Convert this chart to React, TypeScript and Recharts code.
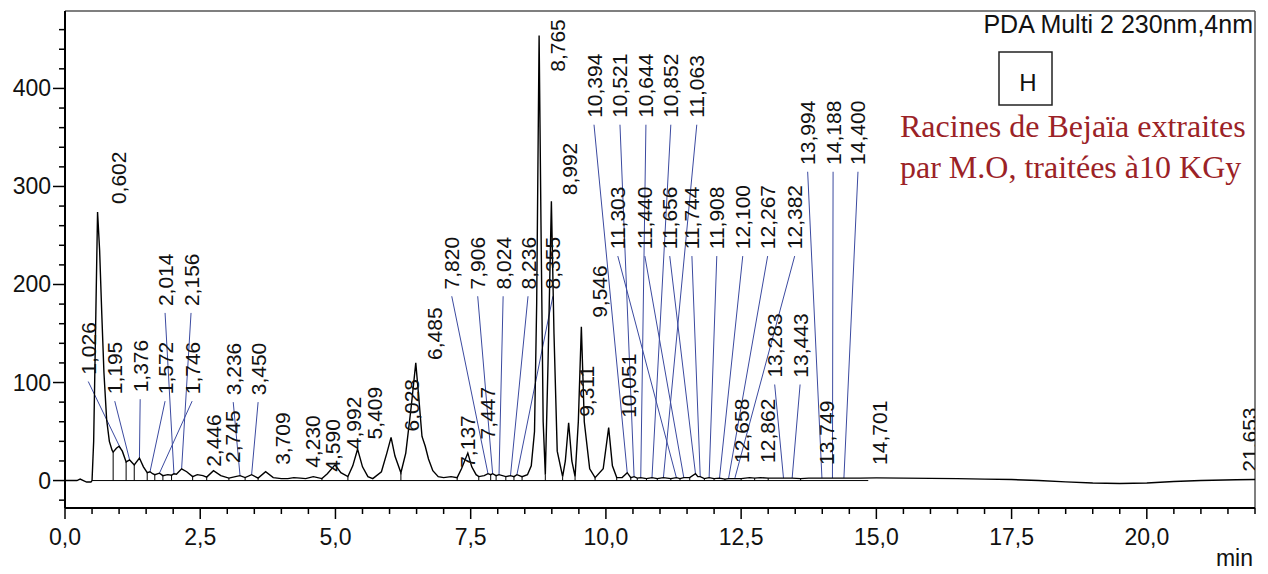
import { ComposedChart, Line, Scatter, XAxis, YAxis, ReferenceLine } from 'recharts';

// detector trace: [retention time (min), response (mAU)]
const trace: [number, number][] = [
  [0, 0], [0.22, 0], [0.28, 1.5], [0.34, 0], [0.4, -1.5], [0.48, -1.5], [0.5, 0],
  [0.53, 40], [0.57, 170], [0.602, 274], [0.64, 235], [0.68, 170], [0.72, 110], [0.77, 62],
  [0.82, 40], [0.87, 31], [0.89, 29], [0.95, 33], [1.0, 35], [1.06, 30], [1.13, 19],
  [1.195, 21], [1.28, 16], [1.376, 23], [1.45, 14], [1.52, 8], [1.572, 9], [1.62, 7],
  [1.66, 6], [1.746, 7.5], [1.81, 5], [1.9, 6], [1.97, 5.5], [2.014, 7], [2.06, 6.5],
  [2.156, 12], [2.25, 9], [2.36, 4], [2.446, 6], [2.55, 5], [2.62, 3.5], [2.745, 10],
  [2.88, 5], [3.03, 2.5], [3.15, 4], [3.236, 5], [3.33, 3], [3.45, 6], [3.57, 2.5],
  [3.709, 9], [3.85, 3], [4.0, 2], [4.12, 2], [4.23, 3], [4.35, 2.5], [4.45, 2], [4.59, 4],
  [4.75, 2], [4.85, 7], [4.992, 16], [5.1, 8], [5.23, 4], [5.32, 15], [5.409, 32], [5.5, 14],
  [5.6, 4], [5.69, 2], [5.85, 9], [5.95, 28], [6.028, 44], [6.1, 25], [6.21, 8], [6.3, 28],
  [6.4, 75], [6.485, 120], [6.54, 85], [6.6, 45], [6.66, 35], [6.72, 22], [6.8, 10],
  [6.9, 4], [7.0, 3], [7.137, 4], [7.25, 3], [7.33, 12], [7.447, 28], [7.52, 14], [7.6, 6],
  [7.65, 4], [7.75, 5], [7.82, 7], [7.87, 6], [7.906, 7], [7.97, 5], [8.024, 6], [8.15, 4],
  [8.236, 5], [8.3, 4], [8.355, 6], [8.45, 4], [8.55, 6], [8.62, 15], [8.68, 50], [8.72, 180],
  [8.765, 454], [8.8, 260], [8.84, 60], [8.88, 6], [8.93, 120], [8.992, 285], [9.04, 150],
  [9.1, 30], [9.2, 4], [9.25, 20], [9.311, 59], [9.37, 20], [9.43, 4], [9.49, 60],
  [9.546, 157], [9.6, 60], [9.7, 12], [9.8, 3], [9.95, 12], [10.051, 54], [10.12, 15],
  [10.2, 3], [10.3, 3], [10.394, 8], [10.46, 3], [10.521, 4], [10.58, 2.5], [10.644, 3],
  [10.75, 2], [10.852, 3], [10.95, 2], [11.063, 3], [11.2, 2], [11.303, 3], [11.37, 2],
  [11.44, 3], [11.55, 3], [11.656, 7], [11.7, 4], [11.744, 4], [11.82, 2], [11.908, 3],
  [12.0, 2], [12.1, 2.5], [12.2, 1.5], [12.267, 2], [12.382, 2], [12.5, 2], [12.658, 3],
  [12.75, 2.5], [12.862, 3], [13.0, 2.5], [13.283, 2.5], [13.443, 2.5], [13.6, 2],
  [13.749, 2.5], [13.994, 2.5], [14.188, 2.5], [14.4, 2.5], [14.701, 2.5], [15.0, 2.7],
  [16.0, 2.2], [16.5, 2], [17.0, 1.5], [17.5, 1], [18.0, 0], [18.5, -1.3], [19.0, -2.5],
  [19.5, -3], [20.0, -2.5], [20.5, -1], [21.0, 0], [21.653, 0.8], [22.0, 1],
];

// integration drop lines (min)
const dropTimes = [
  0.89, 1.13, 1.28, 1.52, 1.66, 1.81, 1.97, 2.36, 2.62, 3.03, 3.33, 3.57, 4.75, 5.23, 6.21,
  7.25, 7.65, 7.87, 7.97, 8.15, 8.3, 8.45, 8.88, 9.2, 9.43, 9.8, 10.2, 10.46, 10.58, 10.75,
  10.95, 11.2, 11.37, 11.55, 11.82, 12.0, 12.2, 12.5, 12.75, 13.0, 13.6,
];

// peak labels: [retention time, label time, label level, leader line]
const peakLabels: [number, number, number, boolean][] = [
  [0.602, 0.98, 282, false], [1.026, 0.43, 108, true], [1.195, 0.92, 88, true],
  [1.376, 1.39, 90, true], [1.572, 1.85, 88, true], [1.746, 2.35, 88, true],
  [2.014, 1.85, 178, true], [2.156, 2.33, 178, true], [2.446, 2.74, 14, false],
  [2.745, 3.09, 18, false], [3.236, 3.11, 87, true], [3.45, 3.57, 87, true],
  [3.709, 4.03, 16, false], [4.23, 4.57, 13, false], [4.59, 4.95, 9, false],
  [4.992, 5.34, 32, false], [5.409, 5.73, 42, false], [6.028, 6.41, 50, false],
  [6.485, 6.84, 123, false], [7.137, 7.45, 13, false], [7.447, 7.82, 42, false],
  [7.82, 7.15, 195, true], [7.906, 7.63, 195, true], [8.024, 8.1, 195, true],
  [8.236, 8.56, 195, true], [8.355, 9.02, 195, true], [8.765, 9.11, 417, false],
  [8.992, 9.33, 291, false], [9.311, 9.65, 65, false], [9.546, 9.89, 166, false],
  [10.051, 10.41, 64, false], [10.394, 9.78, 370, true], [10.521, 10.26, 370, true],
  [10.644, 10.74, 370, true], [10.852, 11.2, 370, true], [11.063, 11.68, 370, true],
  [11.303, 10.22, 236, true], [11.44, 10.72, 236, true], [11.656, 11.18, 236, true],
  [11.744, 11.59, 236, true], [11.908, 12.05, 236, true], [12.1, 12.53, 236, true],
  [12.267, 12.99, 236, true], [12.382, 13.49, 236, true], [12.658, 12.51, 18, false],
  [12.862, 12.99, 18, false], [13.283, 13.12, 105, true], [13.443, 13.59, 105, true],
  [13.994, 13.73, 322, true], [14.188, 14.2, 322, true], [14.4, 14.66, 322, true],
  [13.749, 14.07, 16, false], [14.701, 15.06, 16, false], [21.653, 21.9, 9, false],
];

const xTicks = Array.from({ length: 45 }, (_, i) => i * 0.5);
const yTicks = Array.from({ length: 25 }, (_, i) => -20 + i * 20);

const SANS = "'Liberation Sans', Arial, sans-serif";
const SERIF = "'Liberation Serif', 'Times New Roman', serif";
const LEADER = '#3b4aa0';

const fmt = (n: number, d: number) => n.toFixed(d).replace('.', ',');

function levelAt(t: number) {
  for (let i = 1; i < trace.length; i++) {
    const [t0, v0] = trace[i - 1];
    const [t1, v1] = trace[i];
    if (t >= t0 && t <= t1) return v0 + ((v1 - v0) * (t - t0)) / (t1 - t0);
  }
  return 0;
}

const XTick = ({ x, y, payload }: any) => {
  const v = payload.value;
  const major = Math.abs(v / 2.5 - Math.round(v / 2.5)) < 1e-6;
  return (
    <g>
      <line x1={x} x2={x} y1={y} y2={y + (major ? 11 : 6)} stroke="#000" strokeWidth={1.5} />
      {major && (
        <text x={x} y={y + 37} textAnchor="middle" fontFamily={SANS} fontSize={23} fill="#111">
          {fmt(v, 1)}
        </text>
      )}
    </g>
  );
};

const YTick = ({ x, y, payload }: any) => {
  const v = payload.value;
  const major = v % 100 === 0;
  return (
    <g>
      <line x1={x - (major ? 12 : 6)} x2={x} y1={y} y2={y} stroke="#000" strokeWidth={1.5} />
      {major && (
        <text x={x - 14} y={y} textAnchor="end" dominantBaseline="central" fontFamily={SANS} fontSize={23} fill="#111">
          {v}
        </text>
      )}
    </g>
  );
};

const PeakLabel = (props: any) => {
  const { cx, cy, payload } = props;
  return (
    <text
      x={cx}
      y={cy}
      transform={`rotate(-90 ${cx} ${cy})`}
      textAnchor="start"
      dominantBaseline="central"
      fontFamily={SANS}
      fontSize={21}
      fill="#111"
    >
      {payload.label}
    </text>
  );
};

export default function App() {
  const traceData = trace.map(([t, v]) => ({ t, v }));
  const labelData = peakLabels.map(([rt, t, v]) => ({ t, v, label: fmt(rt, 3) }));

  return (
    <div style={{ position: 'absolute', left: 0, top: 0, width: 1268, height: 574, background: '#fff' }}>
      <ComposedChart width={1268} height={574} margin={{ top: 11, right: 13, bottom: 0, left: 0 }}>
        <XAxis
          type="number"
          dataKey="t"
          domain={[0, 22]}
          ticks={xTicks}
          interval={0}
          allowDataOverflow
          height={66}
          tickSize={0}
          tickMargin={0}
          tickLine={false}
          axisLine={{ stroke: '#000', strokeWidth: 2 }}
          tick={XTick}
        />
        <YAxis
          type="number"
          domain={[-28, 479]}
          ticks={yTicks}
          interval={0}
          allowDataOverflow
          width={65}
          tickSize={0}
          tickMargin={0}
          tickLine={false}
          axisLine={{ stroke: '#000', strokeWidth: 2 }}
          tick={YTick}
        />
        <ReferenceLine y={479} stroke="#555" strokeWidth={1.5} />
        <ReferenceLine x={22} stroke="#555" strokeWidth={1.5} />
        <ReferenceLine segment={[{ x: 0.5, y: 0 }, { x: 14.85, y: 0 }]} stroke="#000" strokeWidth={1} />
        {dropTimes.map((t) => (
          <ReferenceLine key={`d${t}`} segment={[{ x: t, y: 0 }, { x: t, y: levelAt(t) }]} stroke="#000" strokeWidth={1} />
        ))}
        {peakLabels
          .filter((p) => p[3])
          .map(([rt, t, v]) => (
            <ReferenceLine
              key={`l${rt}`}
              segment={[{ x: t, y: v - 7 }, { x: rt, y: levelAt(rt) }]}
              stroke={LEADER}
              strokeWidth={1}
            />
          ))}
        <Line data={traceData} dataKey="v" type="linear" stroke="#000" strokeWidth={1.4} dot={false} activeDot={false} isAnimationActive={false} />
        <Scatter data={labelData} dataKey="v" shape={PeakLabel} isAnimationActive={false} />
      </ComposedChart>
      <svg width={1268} height={574} style={{ position: 'absolute', left: 0, top: 0, pointerEvents: 'none' }}>
        <text x={1253} y={33} textAnchor="end" fontFamily={SANS} fontSize={25} fill="#111">
          PDA Multi 2 230nm,4nm
        </text>
        <rect x={999} y={52} width={53} height={53} fill="none" stroke="#222" strokeWidth={1.5} />
        <text x={1028} y={82} textAnchor="middle" dominantBaseline="central" fontFamily={SANS} fontSize={24} fill="#111">
          H
        </text>
        <text x={900} y={137} fontFamily={SERIF} fontSize={32} fill="#9b2226">
          Racines de Bejaïa extraites
        </text>
        <text x={900} y={178} fontFamily={SERIF} fontSize={32} fill="#9b2226">
          par M.O, traitées à10 KGy
        </text>
        <text x={1253} y={566} textAnchor="end" fontFamily={SANS} fontSize={23} fill="#111">
          min
        </text>
      </svg>
    </div>
  );
}
